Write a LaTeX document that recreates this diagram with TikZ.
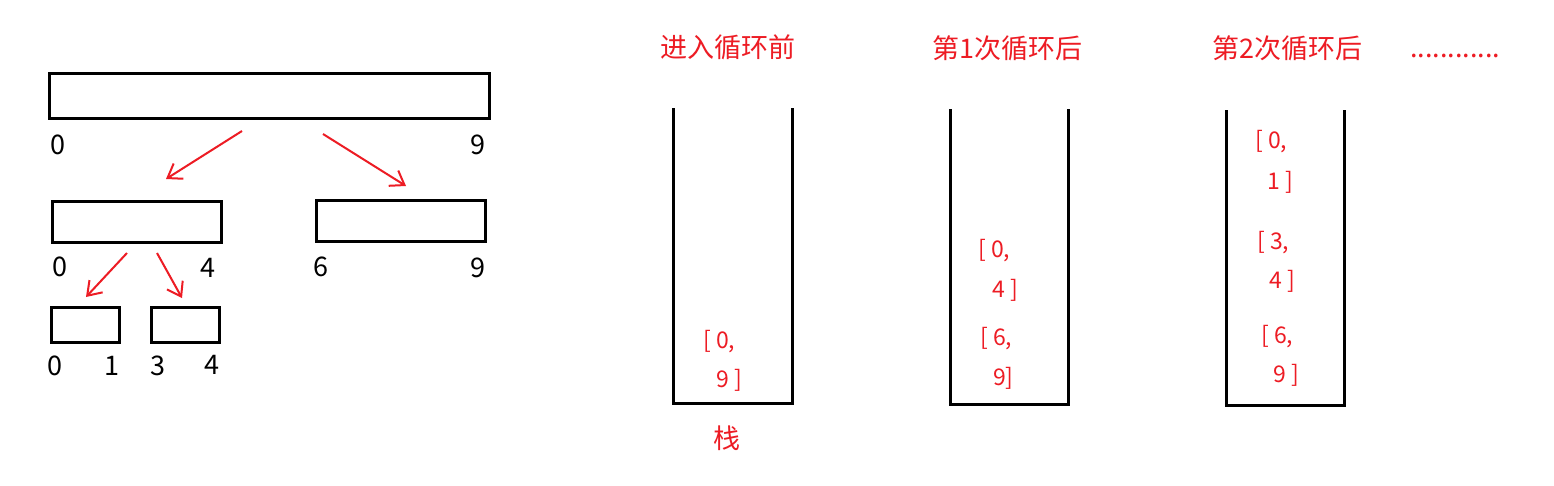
\documentclass[tikz,border=0pt]{standalone}
\usepackage{fontspec}
\setmainfont{Noto Sans CJK SC}
\usetikzlibrary{arrows.meta}
\definecolor{pred}{RGB}{237,28,36}
\begin{document}
\begin{tikzpicture}[x=1pt,y=-1pt,
  box/.style={draw=black,line width=3pt,inner sep=0pt},
  num/.style={font=\fontsize{27}{30}\selectfont, text=black, inner sep=0pt},
  rnum/.style={font=\fontsize{23}{26}\selectfont, text=pred, inner sep=0pt, anchor=base west},
  title/.style={font=\fontsize{27}{30}\selectfont, text=pred, inner sep=0pt},
  split/.style={draw=pred, line width=2pt, -{Straight Barb[length=13pt,width=18pt]}},
  wall/.style={draw=black, line width=3pt}]
\fill[white] (0,0) rectangle (1554,485);
\useasboundingbox (0,0) rectangle (1554,485);

% interval boxes
\node[box, minimum width=440pt, minimum height=45pt] (r09) at (269,95.5) {};
\node[box, minimum width=169pt, minimum height=41pt] (r04) at (136.5,221.5) {};
\node[box, minimum width=169pt, minimum height=41pt] (r69) at (400.5,220.5) {};
\node[box, minimum width=68pt, minimum height=35pt] (r01) at (85,324.5) {};
\node[box, minimum width=68pt, minimum height=35pt] (r34) at (185,324.5) {};

% index labels
\node[num] (l0a) at (58,145) {0};
\node[num] (l9a) at (478,145) {9};
\node[num] (l0b) at (60,267) {0};
\node[num] (l4b) at (208,268) {4};
\node[num] (l6b) at (321,267) {6};
\node[num] (l9b) at (478,268) {9};
\node[num] (l0c) at (55,366) {0};
\node[num] (l1c) at (112,366) {1};
\node[num] (l3c) at (158,366) {3};
\node[num] (l4c) at (212,365) {4};

% split arrows
\coordinate (a1s) at (242,131); \coordinate (a1e) at (166,179);
\coordinate (a2s) at (323,134); \coordinate (a2e) at (406,186);
\coordinate (a3s) at (127,253); \coordinate (a3e) at (86,297);
\coordinate (a4s) at (157,253); \coordinate (a4e) at (182,298);
\draw[split] (a1s) -- (a1e);
\draw[split] (a2s) -- (a2e);
\draw[split] (a3s) -- (a3e);
\draw[split] (a4s) -- (a4e);

% titles
\node[title] (t1) at (728,47) {进入循环前};
\node[title] (t2) at (1007,48) {第1次循环后};
\node[title] (t3) at (1287,48) {第2次循环后};
\node[title, anchor=base west] (tdots) at (1410,57) {............};

% stacks
\coordinate (s1a) at (673,108); \coordinate (s1b) at (673,403);
\coordinate (s1c) at (792,403); \coordinate (s1d) at (792,108);
\draw[wall] (s1a) -- (s1b) -- (s1c) -- (s1d);
\coordinate (s2a) at (950,109); \coordinate (s2b) at (950,404);
\coordinate (s2c) at (1068,404); \coordinate (s2d) at (1068,109);
\draw[wall] (s2a) -- (s2b) -- (s2c) -- (s2d);
\coordinate (s3a) at (1226,110); \coordinate (s3b) at (1226,405);
\coordinate (s3c) at (1344,405); \coordinate (s3d) at (1344,110);
\draw[wall] (s3a) -- (s3b) -- (s3c) -- (s3d);

\node[title] (stk) at (727,438) {栈};

% stack 1 contents
\node[rnum] (e1a) at (703,348) {[ 0,};
\node[rnum] (e1b) at (716,387) {9 ]};
% stack 2 contents
\node[rnum] (e2a) at (978,257) {[ 0,};
\node[rnum] (e2b) at (992,297) {4 ]};
\node[rnum] (e2c) at (980,345) {[ 6,};
\node[rnum] (e2d) at (993,385) {9]};
% stack 3 contents
\node[rnum] (e3a) at (1255,148) {[ 0,};
\node[rnum] (e3b) at (1267,189) {1 ]};
\node[rnum] (e3c) at (1257,249) {[ 3,};
\node[rnum] (e3d) at (1269,288) {4 ]};
\node[rnum] (e3e) at (1261,343) {[ 6,};
\node[rnum] (e3f) at (1273,382) {9 ]};
\end{tikzpicture}
\end{document}
